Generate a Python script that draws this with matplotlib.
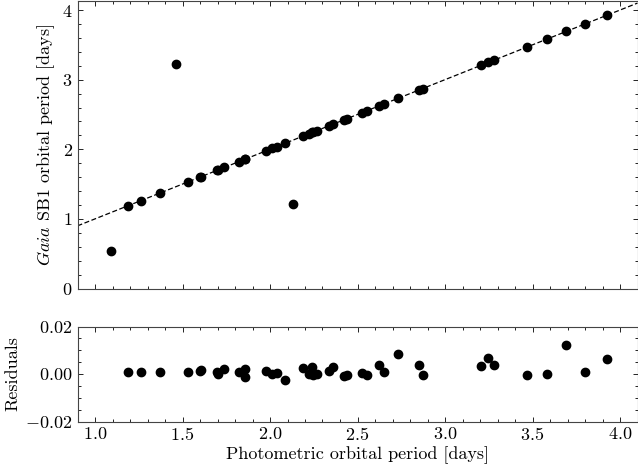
import matplotlib
matplotlib.use("Agg")
import matplotlib.pyplot as plt
from matplotlib.ticker import MultipleLocator
import numpy as np

plt.rcParams['font.family'] = ['cmr10', 'DejaVu Serif']
plt.rcParams['mathtext.fontset'] = 'cm'
plt.rcParams['axes.formatter.use_mathtext'] = True
plt.rcParams['axes.unicode_minus'] = True
plt.rcParams['font.size'] = 13

# Photometric periods of well-matched systems [days]
phot = [1.190, 1.261, 1.369, 1.530, 1.598, 1.605, 1.695, 1.701, 1.739, 1.821,
        1.855, 1.859, 1.978, 2.012, 2.038, 2.086, 2.187, 2.221, 2.240, 2.244,
        2.267, 2.336, 2.359, 2.425, 2.439, 2.527, 2.555, 2.622, 2.654, 2.730,
        2.854, 2.873, 3.203, 3.247, 3.279, 3.466, 3.580, 3.689, 3.799, 3.927]
# Gaia SB1 periods for the same systems [days]
gaia = [1.191, 1.262, 1.370, 1.531, 1.599, 1.607, 1.696, 1.701, 1.741, 1.822,
        1.857, 1.858, 1.979, 2.012, 2.039, 2.084, 2.189, 2.221, 2.243, 2.244,
        2.267, 2.337, 2.362, 2.424, 2.439, 2.527, 2.554, 2.626, 2.655, 2.738,
        2.858, 2.872, 3.206, 3.254, 3.283, 3.465, 3.580, 3.701, 3.800, 3.934]
# Residuals (Gaia - photometric)
resid = [0.0010, 0.0010, 0.0010, 0.0008, 0.0012, 0.0018, 0.0008, 0.0000, 0.0020, 0.0010,
         0.0020, -0.0013, 0.0013, 0.0000, 0.0006, -0.0024, 0.0024, 0.0000, 0.0030, -0.0004,
         0.0000, 0.0013, 0.0030, -0.0009, -0.0004, 0.0003, -0.0006, 0.0038, 0.0010, 0.0084,
         0.0038, -0.0006, 0.0033, 0.0067, 0.0037, -0.0006, 0.0000, 0.0122, 0.0010, 0.0065]
# Outliers (shown only in top panel)
phot_out = [1.090, 1.461, 2.132]
gaia_out = [0.536, 3.22, 1.21]

xlim = (0.9, 4.1)

fig = plt.figure(figsize=(6.38, 4.74), dpi=100)
ax1 = fig.add_axes([77.5/638, (474-288.5)/474, 560/638, 287.5/474])
ax2 = fig.add_axes([77.5/638, (474-421.5)/474, 560/638, 95/474])

for ax in (ax1, ax2):
    ax.tick_params(which='both', direction='in', top=True, right=True, width=0.6)
    ax.tick_params(which='major', length=3.5)
    ax.tick_params(which='minor', length=2)
    for s in ax.spines.values():
        s.set_linewidth(0.8)
        s.set_color('#444444')
    ax.set_xlim(*xlim)
    ax.xaxis.set_major_locator(MultipleLocator(0.5))
    ax.xaxis.set_minor_locator(MultipleLocator(0.1))

lx = np.array(xlim)
ax1.plot(lx, lx, color='black', lw=0.9, ls=(0, (4, 2)), zorder=1)
ax1.plot(phot, gaia, 'o', color='black', ms=6, zorder=2)
ax1.plot(phot_out, gaia_out, 'o', color='black', ms=6, zorder=2)
ax1.set_ylim(0, 4.13)
ax1.yaxis.set_major_locator(MultipleLocator(1))
ax1.yaxis.set_minor_locator(MultipleLocator(0.2))
ax1.tick_params(labelbottom=False)
ax1.set_ylabel(r'$\it{Gaia}$ SB1 orbital period [days]')

ax2.plot(phot, resid, 'o', color='black', ms=6)
ax2.set_ylim(-0.02, 0.02)
ax2.yaxis.set_major_locator(MultipleLocator(0.02))
ax2.yaxis.set_minor_locator(MultipleLocator(0.005))
ax2.yaxis.set_major_formatter(matplotlib.ticker.FuncFormatter(
    lambda v, p: r'$%.2f$' % v))
ax2.set_ylabel('Residuals')
ax2.set_xlabel('Photometric orbital period [days]', labelpad=2)

fig.align_ylabels([ax1, ax2])
fig.savefig('out.png', dpi=100)
